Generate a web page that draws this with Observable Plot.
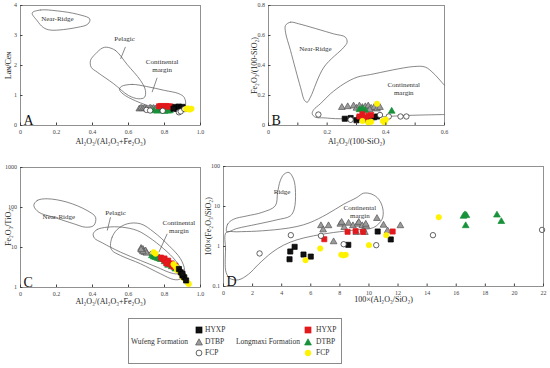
<!DOCTYPE html>
<html><head><meta charset="utf-8">
<script src="https://cdn.jsdelivr.net/npm/d3@7"></script>
<script src="https://cdn.jsdelivr.net/npm/@observablehq/plot@0.6"></script>
<style>
body{margin:0;background:#fff;}
#wrap{position:relative;width:550px;height:368px;overflow:hidden;font-family:"Liberation Serif","Times New Roman",serif;background:#fff;}
#legend{position:absolute;left:128px;top:318px;width:214px;height:46px;border:1px solid #8a8a8a;box-sizing:border-box;font-size:7.5px;color:#333;}
#legend div{position:absolute;white-space:nowrap;line-height:10px;}
#legend svg{position:absolute;}
</style></head><body><div id="wrap"><div id="legend"></div></div>
<script>
// ---------- data: panel A (La/Ce vs Al2O3/(Al2O3+Fe2O3)) ----------
const A_W_HYXP = [[0.86,0.62],[0.87,0.56],[0.88,0.63],[0.89,0.58],[0.90,0.62],[0.91,0.55],[0.85,0.56]];
const A_W_DTBP = [[0.66,0.55],[0.67,0.58],[0.68,0.56],[0.69,0.57],[0.70,0.55],[0.72,0.58],[0.73,0.56],[0.74,0.57],[0.75,0.55],[0.76,0.58],[0.78,0.56],[0.79,0.60],[0.80,0.57],[0.82,0.58]];
const A_W_FCP  = [[0.70,0.52],[0.72,0.50],[0.79,0.49],[0.88,0.44],[0.89,0.47],[0.91,0.55]];
const A_L_HYXP = [[0.77,0.64],[0.78,0.65],[0.79,0.63],[0.80,0.64],[0.81,0.65],[0.82,0.63],[0.83,0.64]];
const A_L_DTBP = [[0.74,0.49],[0.76,0.48],[0.78,0.49],[0.80,0.47],[0.82,0.48],[0.83,0.49]];
const A_L_FCP  = [[0.92,0.55],[0.93,0.57],[0.94,0.53],[0.95,0.56]];
const A_NearRidge = [[0.065,3.75],[0.11,3.85],[0.204,3.82],[0.315,3.71],[0.385,3.55],[0.374,3.38],[0.315,3.27],[0.167,3.18],[0.126,3.27],[0.093,3.49]];
const A_Pelagic = [[0.478,2.61],[0.528,2.5],[0.593,2.03],[0.667,1.5],[0.694,1.17],[0.689,0.94],[0.657,0.89],[0.60,1.0],[0.518,1.39],[0.426,1.78],[0.393,1.94],[0.389,2.17],[0.417,2.39],[0.454,2.58]];
const A_CM = [[0.56,1.30],[0.62,1.37],[0.70,1.30],[0.80,1.17],[0.88,1.06],[0.91,0.93],[0.915,0.65],[0.88,0.56],[0.75,0.60],[0.64,0.82],[0.57,1.05],[0.55,1.20]];
const A_Labels = [{x:0.205,y:3.57,t:"Near-Ridge"},{x:0.578,y:2.89,t:"Pelagic"},{x:0.787,y:2.0,t:"Continental\nmargin"}];
const A_Leaders = [{x1:0.583,y1:2.62,x2:0.556,y2:2.22},{x1:0.759,y1:1.59,x2:0.731,y2:1.11}];

// ---------- data: panel B (Fe2O3/(100-SiO2) vs Al2O3/(100-SiO2)) ----------
const B_W_HYXP = [[0.26,0.045],[0.28,0.05],[0.30,0.035],[0.31,0.05],[0.33,0.04],[0.36,0.055],[0.37,0.06],[0.35,0.05]];
const B_W_DTBP = [[0.25,0.12],[0.27,0.125],[0.29,0.13],[0.30,0.115],[0.31,0.13],[0.32,0.12],[0.33,0.125],[0.34,0.13],[0.35,0.115],[0.36,0.12],[0.37,0.11],[0.38,0.12],[0.345,0.105]];
const B_W_FCP  = [[0.17,0.073],[0.28,0.038],[0.41,0.06],[0.45,0.06],[0.47,0.06],[0.38,0.07]];
const B_L_HYXP = [[0.31,0.06],[0.32,0.075],[0.33,0.05],[0.34,0.065],[0.35,0.07]];
const B_L_DTBP = [[0.31,0.105],[0.32,0.11],[0.33,0.10],[0.42,0.095]];
const B_L_FCP  = [[0.32,0.03],[0.34,0.02],[0.37,0.145],[0.39,0.03],[0.40,0.04],[0.395,0.02],[0.35,0.025]];
const B_NearRidge = [[0.058,0.667],[0.075,0.689],[0.103,0.678],[0.222,0.611],[0.262,0.589],[0.268,0.555],[0.257,0.522],[0.189,0.389],[0.143,0.189],[0.132,0.155],[0.123,0.167],[0.109,0.255],[0.075,0.5],[0.058,0.622]];
const B_CM = [[0.6,0.267],[0.564,0.345],[0.535,0.389],[0.495,0.393],[0.348,0.34],[0.302,0.322],[0.257,0.278],[0.211,0.211],[0.177,0.145],[0.154,0.105],[0.149,0.078],[0.16,0.055],[0.189,0.051],[0.245,0.045],[0.473,0.067],[0.6,0.073]];
const B_Labels = [{x:0.16,y:0.515,t:"Near-Ridge"},{x:0.461,y:0.248,t:"Continental\nmargin"}];

// ---------- data: panel C (Fe2O3/TiO2 vs Al2O3/(Al2O3+Fe2O3)) ----------
const C_W_HYXP = [[0.88,2.9],[0.89,2.4],[0.90,2.0],[0.91,1.8],[0.92,1.5],[0.90,2.2]];
const C_W_DTBP = [[0.67,9.5],[0.675,8.5],[0.68,9.0],[0.685,8.0],[0.69,7.5],[0.695,8.2],[0.70,7.2],[0.68,7.8],[0.67,8.8]];
const C_W_FCP  = [[0.73,6.9],[0.745,6.5],[0.88,2.8]];
const C_L_HYXP = [[0.78,5.6],[0.79,5.2],[0.80,4.8],[0.81,4.5],[0.82,4.2],[0.83,3.9],[0.84,3.6],[0.85,3.3],[0.80,5.3],[0.82,4.7],[0.84,4.0],[0.86,3.5],[0.81,4.0]];
const C_L_DTBP = [[0.73,6.2],[0.74,5.8],[0.75,5.6],[0.76,5.4],[0.77,5.2],[0.78,5.0],[0.75,6.0],[0.77,5.5],[0.80,4.4],[0.82,3.6],[0.84,3.3],[0.86,2.9]];
const C_L_FCP  = [[0.74,7.6],[0.75,7.0],[0.85,3.8],[0.86,3.4],[0.87,3.0],[0.88,2.6],[0.89,2.3],[0.90,2.0],[0.91,1.7],[0.92,1.5],[0.93,1.3],[0.935,1.22],[0.87,2.7],[0.90,1.8]];
const C_NearRidge = [[0.074,112],[0.093,150],[0.148,165],[0.259,136],[0.37,84],[0.417,57],[0.407,35.5],[0.361,32.2],[0.296,39.2],[0.185,57],[0.102,76]];
const C_Pelagic = [[0.404,22.0],[0.426,28.2],[0.482,32.2],[0.565,32.2],[0.648,26.6],[0.713,18.1],[0.796,9.27],[0.861,4.73],[0.893,2.66],[0.87,2.2],[0.824,2.41],[0.759,3.22],[0.667,4.73],[0.556,7.64],[0.454,13.1],[0.411,17.1]];
const C_CM = [[0.5,11.2],[0.509,18.1],[0.537,28.2],[0.593,39.1],[0.667,39.1],[0.741,24.2],[0.824,11.2],[0.889,5.21],[0.911,2.66],[0.889,1.65],[0.852,1.58],[0.778,2.2],[0.667,3.91],[0.556,6.31],[0.509,8.41]];
const C_Labels = [{x:0.213,y:59.6,t:"Near-Ridge"},{x:0.528,y:73.6,t:"Pelagic"},{x:0.88,y:33,t:"Continental\nmargin"}];
const C_Leaders = [{x1:0.5,y1:57,x2:0.482,y2:26.6},{x1:0.815,y1:22,x2:0.769,y2:7.64}];

// ---------- data: panel D (100*(Fe2O3/SiO2) vs 100*(Al2O3/SiO2)) ----------
const D_W_HYXP = [[4.54,0.48],[4.59,0.75],[4.89,0.98],[5.5,0.63],[6.0,0.56],[8.58,1.1],[10.6,2.37],[11.5,1.5]];
const D_W_DTBP = [[6.7,3.3],[6.85,2.6],[7.22,3.3],[7.57,1.31],[8.03,3.6],[8.12,4.0],[8.3,2.98],[8.6,3.8],[8.9,3.3],[9.13,2.24],[9.22,3.6],[9.3,4.0],[9.54,3.3],[9.63,2.6],[9.72,2.24],[9.82,3.2],[9.78,3.6],[10.55,5.0],[11.0,3.4],[11.28,2.46],[12.16,3.3]];
const D_W_FCP  = [[2.48,0.67],[4.63,1.92],[6.7,1.85],[8.26,1.14],[10.5,1.08],[14.4,1.92],[21.9,2.6]];
const D_L_HYXP = [[6.93,1.52],[8.53,2.33],[9.08,2.42],[9.59,2.33],[11.63,2.37]];
const D_L_DTBP = [[16.5,5.7],[16.6,6.2],[16.7,5.9],[16.65,3.3],[18.8,6.1],[19.1,4.2]];
const D_L_FCP  = [[5.64,0.455],[6.65,0.89],[8.1,0.62],[8.25,0.6],[8.4,0.62],[10.0,1.08],[11.19,1.92],[14.8,5.4]];
const D_Ridge = [[0.23,2.33],[0.28,3.6],[0.69,4.8],[1.6,5.8],[2.64,7.1],[3.56,10.4],[3.72,22.4],[3.9,43.9],[4.17,64.6],[4.5,70.8],[4.82,48.1],[4.95,22.4],[4.86,8.58],[4.59,5.8],[3.67,4.64],[2.29,3.6],[0.92,2.82]];
const D_CM = [[0.18,2.24],[0.14,0.86],[0.18,0.224],[0.46,0.158],[1.03,0.147],[1.72,0.203],[2.41,0.36],[3.33,0.71],[4.13,1.08],[5.05,1.47],[6.19,1.85],[7.57,2.24],[9.17,2.61],[10.32,2.98],[10.9,4.8],[10.96,8.58],[10.67,15.2],[10.2,20.3],[9.63,21.5],[9.17,16.8],[8.26,11.4],[7.11,6.4],[5.96,3.98],[5.05,3.16],[3.9,2.71],[2.29,2.42],[0.92,2.33]];
const D_Labels = [{x:4.03,y:23.7,t:"Ridge"},{x:9.37,y:7.5,t:"Continental\nmargin"}];

// ---------- tick values & legend text ----------
const ticksA_x = [0,0.2,0.4,0.6,0.8,1.0], ticksA_y = [0,1,2,3,4];
const ticksB_x = [0,0.1,0.2,0.3,0.4,0.5,0.6], ticksB_y = [0,0.2,0.4,0.6,0.8];
const ticksC_x = [0,0.2,0.4,0.6,0.8,1.0], ticksC_y = [1,10,100,1000];
const ticksD_x = [0,2,4,6,8,10,12,14,16,18,20,22], ticksD_y = [0.1,1,10,100];
const legendGroups = ["Wufeng Formation","Longmaxi Formation"];
const legendItems = ["HYXP","DTBP","FCP"];

// ---------- styles ----------
const FONT = '"Liberation Serif","Times New Roman",serif';
const RED="#e3191c", GREEN="#17923a", YEL="#fff200", GRAY="#9b9b9b";
const S = {
  wH:{symbol:"square",fill:"#111",stroke:"#000",r:2.9},
  wD:{symbol:"triangle",fill:GRAY,stroke:"#555",r:2.5},
  wF:{symbol:"circle",fill:"#fff",stroke:"#222",r:2.7},
  lH:{symbol:"square",fill:RED,stroke:RED,r:2.9},
  lD:{symbol:"triangle",fill:GREEN,stroke:GREEN,r:2.5},
  lF:{symbol:"circle",fill:YEL,stroke:YEL,r:2.7}
};
const dots = (data,s)=>Plot.dot(data,{x:d=>d[0],y:d=>d[1],symbol:s.symbol,fill:s.fill,stroke:s.stroke,r:s.r,strokeWidth:0.7});
const outline = (poly,closed=true)=>Plot.line(poly,{x:d=>d[0],y:d=>d[1],stroke:"#555",strokeWidth:0.7,curve:closed?"catmull-rom-closed":"catmull-rom"});
const labels = (arr)=>Plot.text(arr,{x:"x",y:"y",text:"t",fontSize:7,fill:"#333",textAnchor:"middle",lineHeight:1.15});
const leaders = (arr)=>Plot.link(arr,{x1:"x1",y1:"y1",x2:"x2",y2:"y2",stroke:"#555",strokeWidth:0.7});
const fmt1 = d=>d===0?"0":d.toFixed(1);

const wrap = document.getElementById("wrap");
function panel(c){
  const p = Plot.plot({
    width:c.w, height:c.h, marginLeft:c.ml, marginRight:c.mr, marginTop:c.mt, marginBottom:c.mb,
    x:{domain:c.xd}, y:{domain:c.yd, type:c.ytype||"linear"},
    style:{fontFamily:FONT,fontSize:"6px",color:"#444",background:"transparent",overflow:"visible"},
    marks:[
      ...c.marks,
      Plot.frame({stroke:"#777",strokeWidth:0.8}),
      Plot.axisX({ticks:c.xt,tickFormat:c.xf,tickSize:-2.5,tickPadding:6.5,label:null}),
      Plot.axisY({ticks:c.yt,tickFormat:c.yf,tickSize:-2.5,tickPadding:6,label:null}),
      Plot.text([c.xl],{frameAnchor:"bottom",text:d=>d,dy:c.xdy,fontSize:8,fill:"#222",textAnchor:"middle"}),
      Plot.text([c.yl],{frameAnchor:"left",text:d=>d,rotate:-90,dx:c.ydx,fontSize:8,fill:"#222",textAnchor:"middle"}),
      Plot.text([c.letter],{frameAnchor:"bottom-left",text:d=>d,dx:3,dy:-1,fontSize:14,lineAnchor:"bottom",textAnchor:"start",fill:"#111"})
    ]
  });
  p.style.position="absolute"; p.style.left=c.left+"px"; p.style.top=c.top+"px";
  wrap.appendChild(p);
}

panel({left:0,top:0,w:210,h:150,ml:20,mr:10,mt:5,mb:25,xd:[0,1],yd:[0,4],
  xt:ticksA_x,xf:fmt1,yt:ticksA_y,yf:d=>String(d),
  xl:"Al₂O₃/(Al₂O₃+Fe₂O₃)",xdy:18,yl:"Laɴ/Ceɴ",ydx:-12,letter:"A",
  marks:[outline(A_NearRidge),outline(A_Pelagic),outline(A_CM),leaders(A_Leaders),labels(A_Labels),
    dots(A_W_DTBP,S.wD),dots(A_L_DTBP,S.lD),dots(A_L_HYXP,S.lH),dots(A_W_HYXP,S.wH),dots(A_W_FCP,S.wF),dots(A_L_FCP,S.lF)]});

panel({left:240,top:0,w:210,h:150,ml:28,mr:6,mt:5,mb:25,xd:[0,0.6],yd:[0,0.8],
  xt:ticksB_x,xf:d=>(Math.round(d*10)%2?"":fmt1(d)),yt:ticksB_y,yf:fmt1,
  xl:"Al₂O₃/(100-SiO₂)",xdy:18,yl:"Fe₂O₃/(100-SiO₂)",ydx:-14,letter:"B",
  marks:[outline(B_NearRidge),outline(B_CM,false),labels(B_Labels),
    dots(B_W_DTBP,S.wD),dots(B_L_DTBP,S.lD),dots(B_W_HYXP,S.wH),dots(B_L_HYXP,S.lH),dots(B_W_FCP,S.wF),dots(B_L_FCP,S.lF)]});

panel({left:0,top:155,w:210,h:155,ml:20,mr:10,mt:12,mb:23,xd:[0,1],yd:[1,1000],ytype:"log",
  xt:ticksC_x,xf:fmt1,yt:ticksC_y,yf:d=>String(d),
  xl:"Al₂O₃/(Al₂O₃+Fe₂O₃)",xdy:16,yl:"Fe₂O₃/TiO₂",ydx:-12,letter:"C",
  marks:[outline(C_NearRidge),outline(C_Pelagic),outline(C_CM),leaders(C_Leaders),labels(C_Labels),
    dots(C_W_DTBP,S.wD),dots(C_W_FCP,S.wF),dots(C_L_DTBP,S.lD),dots(C_L_HYXP,S.lH),dots(C_L_FCP,S.lF),dots(C_W_HYXP,S.wH)]});

panel({left:200,top:155,w:350,h:150,ml:23,mr:7,mt:11,mb:19,xd:[0,22],yd:[0.1,100],ytype:"log",
  xt:ticksD_x,xf:d=>String(d),yt:ticksD_y,yf:d=>String(d),
  xl:"100×(Al₂O₃/SiO₂)",xdy:15,yl:"100×(Fe₂O₃/SiO₂)",ydx:-15,letter:"D",
  marks:[outline(D_Ridge),outline(D_CM),labels(D_Labels),
    dots(D_W_DTBP,S.wD),dots(D_L_DTBP,S.lD),dots(D_W_HYXP,S.wH),dots(D_L_HYXP,S.lH),dots(D_W_FCP,S.wF),dots(D_L_FCP,S.lF)]});

// ---------- legend ----------
const leg = document.getElementById("legend");
const symSvg = (s)=>{
  const sz=8;
  let shape;
  if(s.symbol==="square") shape=`<rect x="1" y="1" width="6" height="6" fill="${s.fill}" stroke="${s.stroke}" stroke-width="0.7"/>`;
  else if(s.symbol==="triangle") shape=`<path d="M4,0.8L7.4,7L0.6,7Z" fill="${s.fill}" stroke="${s.stroke}" stroke-width="0.7"/>`;
  else shape=`<circle cx="4" cy="4" r="2.9" fill="${s.fill}" stroke="${s.stroke}" stroke-width="0.7"/>`;
  return `<svg width="${sz}" height="${sz}" viewBox="0 0 8 8">${shape}</svg>`;
};
const groupStyles = [[S.wH,S.wD,S.wF],[S.lH,S.lD,S.lF]];
const gx = [2,107], sx = [66,175], tx = [76,187], rowY = [11,23,34];
let html="";
legendGroups.forEach((g,i)=>{
  html += `<div style="left:${gx[i]}px;top:${rowY[1]-5}px">${g}</div>`;
  legendItems.forEach((it,j)=>{
    html += `<svg style="left:${sx[i]}px;top:${rowY[j]-4}px" width="8" height="8" viewBox="0 0 8 8">${symSvg(groupStyles[i][j]).replace(/^<svg[^>]*>|<\/svg>$/g,"")}</svg>`;
    html += `<div style="left:${tx[i]}px;top:${rowY[j]-5}px">${it}</div>`;
  });
});
leg.innerHTML = html;
</script></body></html>
